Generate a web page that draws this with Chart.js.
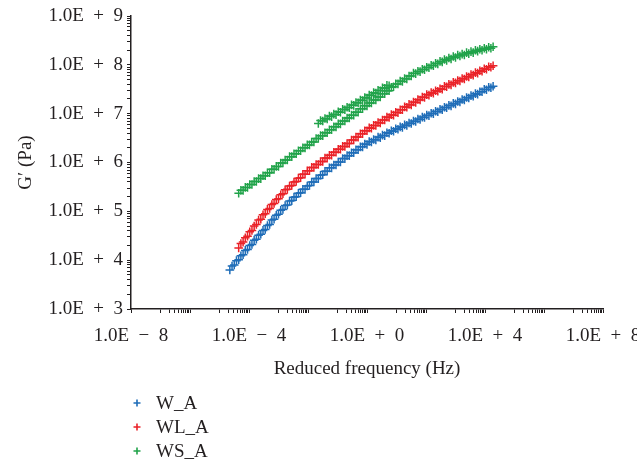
<!DOCTYPE html>
<html>
<head>
<meta charset="utf-8">
<script src="https://cdn.jsdelivr.net/npm/chart.js@4"></script>
<style>
  html, body { margin: 0; padding: 0; background: #fff; }
  #wrap { position: relative; width: 637px; height: 468px; overflow: hidden; }
  #legend { position: absolute; left: 132px; top: 391px; font: 19px "Liberation Serif", serif; color: #231f20; }
  .li { height: 24px; display: flex; align-items: center; }
  .li svg { margin-right: 14px; }
</style>
</head>
<body>
<div id="wrap">
  <canvas id="c" width="637" height="468"></canvas>
  <div id="legend"></div>
</div>
<script>
// valores, en log10 (frecuencia reducida en Hz, G' en Pa)
// dos barridos que se solapan (A y B) para cada mezcla
const logFreq = [-4.65, -4.5, -4.35, -4.2, -4.05, -3.9, -3.75, -3.6, -3.45, -3.3, -3.15, -3.0,
  -2.85, -2.7, -2.55, -2.4, -2.25, -2.1, -1.95, -1.8, -1.65, -1.5, -1.35, -1.2, -1.05, -0.9,
  -0.75, -0.6, -0.45, -0.3, -0.15, 0, 0.15, 0.3, 0.45, 0.6, 0.75, 0.9, 1.05, 1.2, 1.35, 1.5,
  1.65, 1.8, 1.95, 2.1, 2.25, 2.4, 2.55, 2.7, 2.85, 3.0, 3.15, 3.3, 3.45, 3.6, 3.75, 3.9, 4.05, 4.2];

const logFreqB = [-4.575, -4.425, -4.275, -4.125, -3.975, -3.825, -3.675, -3.525, -3.375, -3.225,
  -3.075, -2.925, -2.775, -2.625, -2.475, -2.325, -2.175, -2.025, -1.875, -1.725, -1.575, -1.425,
  -1.275, -1.125, -0.975, -0.825, -0.675, -0.525, -0.375, -0.225, -0.075, 0.075, 0.225, 0.375,
  0.525, 0.675, 0.825, 0.975, 1.125, 1.275, 1.425, 1.575, 1.725, 1.875, 2.025, 2.175, 2.325, 2.475,
  2.625, 2.775, 2.925, 3.075, 3.225, 3.375, 3.525, 3.675, 3.825, 3.975, 4.125, 4.275];

const logWA = [3.80, 3.90, 4.01, 4.11, 4.22, 4.32, 4.43, 4.53, 4.63, 4.73, 4.84, 4.94,
  5.04, 5.13, 5.22, 5.30, 5.38, 5.45, 5.53, 5.60, 5.67, 5.75, 5.82, 5.89, 5.95, 6.01,
  6.08, 6.14, 6.20, 6.26, 6.32, 6.37, 6.42, 6.46, 6.51, 6.55, 6.60, 6.64, 6.68, 6.72, 6.76, 6.80,
  6.84, 6.88, 6.92, 6.96, 7.00, 7.04, 7.08, 7.12, 7.16, 7.20, 7.24, 7.28, 7.32, 7.36, 7.40, 7.45, 7.49, 7.53];
const logWAB = [3.88, 3.99, 4.09, 4.20, 4.30, 4.41, 4.51, 4.61, 4.71, 4.82, 4.92, 5.02,
  5.12, 5.21, 5.29, 5.37, 5.45, 5.52, 5.60, 5.67, 5.74, 5.82, 5.89, 5.95, 6.01, 6.08,
  6.14, 6.20, 6.26, 6.32, 6.38, 6.43, 6.47, 6.52, 6.56, 6.61, 6.65, 6.69, 6.73, 6.77, 6.81, 6.85,
  6.89, 6.93, 6.97, 7.01, 7.05, 7.09, 7.13, 7.17, 7.21, 7.25, 7.29, 7.33, 7.37, 7.41, 7.45, 7.50, 7.54, 7.56];

const logWLA = [null, null, 4.25, 4.37, 4.49, 4.61, 4.73, 4.84, 4.95, 5.06, 5.16, 5.26,
  5.36, 5.45, 5.53, 5.61, 5.69, 5.76, 5.83, 5.90, 5.96, 6.02, 6.09, 6.15, 6.21, 6.27,
  6.33, 6.39, 6.46, 6.52, 6.59, 6.65, 6.70, 6.76, 6.81, 6.87, 6.92, 6.97, 7.02, 7.08, 7.13, 7.18,
  7.23, 7.28, 7.33, 7.38, 7.42, 7.46, 7.50, 7.55, 7.59, 7.63, 7.67, 7.71, 7.75, 7.79, 7.83, 7.87, 7.91, 7.95];
const logWLAB = [null, null, 4.34, 4.46, 4.58, 4.70, 4.82, 4.93, 5.04, 5.14, 5.24, 5.34,
  5.44, 5.52, 5.60, 5.68, 5.76, 5.83, 5.90, 5.96, 6.02, 6.09, 6.15, 6.21, 6.27, 6.33,
  6.39, 6.46, 6.52, 6.59, 6.65, 6.71, 6.76, 6.82, 6.87, 6.93, 6.98, 7.03, 7.08, 7.14, 7.19, 7.24,
  7.29, 7.34, 7.39, 7.43, 7.47, 7.51, 7.56, 7.60, 7.64, 7.68, 7.72, 7.76, 7.80, 7.84, 7.88, 7.92, 7.96, 7.98];

const logWSA = [null, null, 5.37, 5.43, 5.49, 5.55, 5.61, 5.67, 5.73, 5.79, 5.86, 5.92,
  5.99, 6.05, 6.12, 6.18, 6.24, 6.30, 6.36, 6.42, 6.49, 6.55, 6.61, 6.67, 6.73, 6.79,
  6.85, 6.91, 6.97, 7.03, 7.10, 7.16, 7.22, 7.28, 7.34, 7.41, 7.47, 7.55, 7.61, 7.66, 7.71, 7.77,
  7.82, 7.86, 7.90, 7.94, 7.98, 8.02, 8.06, 8.09, 8.12, 8.15, 8.18, 8.20, 8.23, 8.25, 8.28, 8.30, 8.32, 8.34];
const logWSAB = [null, null, 5.43, 5.49, 5.55, 5.61, 5.67, 5.73, 5.79, 5.86, 5.92, 5.99,
  6.05, 6.12, 6.18, 6.24, 6.30, 6.36, 6.42, 6.49, 6.55, 6.61, 6.67, 6.73, 6.79, 6.85,
  6.91, 6.97, 7.03, 7.10, 7.16, 7.22, 7.28, 7.34, 7.41, 7.47, 7.54, 7.61, 7.67, 7.72, 7.77, 7.83,
  7.87, 7.91, 7.95, 7.99, 8.03, 8.07, 8.11, 8.14, 8.17, 8.20, 8.22, 8.25, 8.27, 8.30, 8.32, 8.34, 8.36, 8.37];

// tramo superior de WS_A (otra temperatura que se solapa)
const logFreqWSAUpper = [-1.65, -1.5, -1.35, -1.2, -1.05, -0.9, -0.75, -0.6, -0.45, -0.3,
  -0.15, 0, 0.15, 0.3, 0.45, 0.6, 0.75];
const logWSAUpper = [6.80, 6.85, 6.89, 6.94, 6.98, 7.03, 7.08, 7.12, 7.17, 7.22,
  7.27, 7.32, 7.37, 7.42, 7.47, 7.52, 7.57];
const logFreqWSAUpperB = [-1.575, -1.425, -1.275, -1.125, -0.975, -0.825, -0.675, -0.525,
  -0.375, -0.225, -0.075, 0.075, 0.225, 0.375, 0.525, 0.675];
const logWSAUpperB = [6.86, 6.90, 6.95, 6.99, 7.04, 7.09, 7.13, 7.18,
  7.23, 7.28, 7.33, 7.38, 7.43, 7.48, 7.53, 7.58];

const seriesNames  = ['W_A', 'WL_A', 'WS_A'];
const seriesColors = ['#1f6db8', '#ea2228', '#21a34a'];

const xTickLabels = { '-8': '1.0E − 8', '-4': '1.0E − 4', '0': '1.0E + 0', '4': '1.0E + 4', '8': '1.0E + 8' };
const yTickLabels = { 3: '1.0E + 3', 4: '1.0E + 4', 5: '1.0E + 5', 6: '1.0E + 6', 7: '1.0E + 7', 8: '1.0E + 8', 9: '1.0E + 9' };

const ink = '#231f20';
const serif = '"Liberation Serif", "Times New Roman", serif';

function toPoints(lf, lg) {
  const out = [];
  lf.forEach((f, i) => { if (lg[i] != null) out.push({ x: Math.pow(10, f), y: Math.pow(10, lg[i]) }); });
  return out;
}

// exponente si el valor es potencia exacta de 10, si no null
function decade(v) {
  const e = Math.round(Math.log10(v));
  return Math.abs(v / Math.pow(10, e) - 1) < 1e-6 ? e : null;
}

// las etiquetas del original llevan espacios anchos alrededor del signo
const wide = s => s.replace(/ /g, '\u2002');

const dataSets = [
  toPoints(logFreq, logWA).concat(toPoints(logFreqB, logWAB)),
  toPoints(logFreq, logWLA).concat(toPoints(logFreqB, logWLAB)),
  toPoints(logFreq, logWSA).concat(toPoints(logFreqB, logWSAB),
    toPoints(logFreqWSAUpper, logWSAUpper), toPoints(logFreqWSAUpperB, logWSAUpperB)),
];

new Chart(document.getElementById('c'), {
  type: 'scatter',
  data: {
    datasets: dataSets.map((d, i) => ({
      label: seriesNames[i],
      data: d,
      pointStyle: 'cross',
      pointRadius: 4.3,
      pointBorderWidth: 1.5,
      borderColor: seriesColors[i],
      backgroundColor: seriesColors[i],
    })),
  },
  options: {
    responsive: false,
    animation: false,
    events: [],
    layout: { autoPadding: false, padding: { left: 11, top: 16, right: 34, bottom: 84 } },
    plugins: { legend: { display: false }, tooltip: { enabled: false } },
    scales: {
      x: {
        type: 'logarithmic',
        min: 1e-8, max: 1e8,
        // la última etiqueta queda cortada por el borde, igual que en el original
        afterFit: s => { s.height = 75; s.paddingLeft = 0; s.paddingRight = 0; },
        afterBuildTicks: s => {
          // marcas menores solo en las décadas impares, como el original
          const t = [{ value: 1e-8 }];
          for (let e = -7; e <= 7; e += 2) {
            for (let m = 1; m <= 9; m++) t.push({ value: m * Math.pow(10, e) });
            t.push({ value: Math.pow(10, e + 1) });
          }
          s.ticks = t;
        },
        ticks: {
          autoSkip: false, maxRotation: 0, padding: 12, color: ink,
          font: { family: serif, size: 19 },
          callback: v => { const e = decade(v); return e != null && xTickLabels[e] ? wide(xTickLabels[e]) : ''; },
        },
        grid: { drawOnChartArea: false, drawTicks: true, tickLength: 4, color: ink, lineWidth: 1 },
        border: { display: true, color: ink, width: 1.5 },
        title: { display: true, text: 'Reduced frequency (Hz)', color: ink, font: { family: serif, size: 19 }, padding: { top: 4, bottom: 4 } },
      },
      y: {
        type: 'logarithmic',
        min: 1e3, max: 1e9,
        afterFit: s => { s.width = 120; s.paddingTop = 0; s.paddingBottom = 0; },
        afterBuildTicks: s => {
          const t = [];
          for (let e = 3; e < 9; e++) for (let m = 1; m <= 9; m++) t.push({ value: m * Math.pow(10, e) });
          t.push({ value: 1e9 });
          s.ticks = t;
        },
        ticks: {
          autoSkip: false, padding: 4, color: ink,
          font: { family: serif, size: 19 },
          callback: v => { const e = decade(v); return e != null && yTickLabels[e] ? wide(yTickLabels[e]) : ''; },
        },
        grid: { drawOnChartArea: false, drawTicks: true, tickLength: 4, color: ink, lineWidth: 1 },
        border: { display: true, color: ink, width: 1.5 },
        title: { display: true, text: 'G′ (Pa)', color: ink, font: { family: serif, size: 19 }, padding: { top: 4, bottom: 4 } },
      },
    },
  },
});

// leyenda vertical debajo del gráfico
document.getElementById('legend').innerHTML = seriesNames.map((n, i) => `
  <div class="li">
    <svg width="10" height="10" viewBox="0 0 10 10"><path d="M5 1.5V8.5M1.5 5H8.5" stroke="${seriesColors[i]}" stroke-width="1.6"/></svg>
    <span>${n}</span>
  </div>`).join('');
</script>
</body>
</html>
